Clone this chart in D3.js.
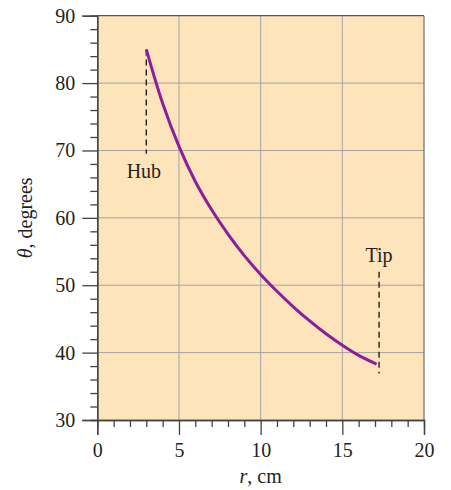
<!DOCTYPE html>
<html>
<head>
<meta charset="utf-8">
<script src="https://cdn.jsdelivr.net/npm/d3@7"></script>
<style>
  html, body { margin: 0; padding: 0; background: #ffffff; }
  svg { display: block; }
  text { font-family: "Liberation Serif", "DejaVu Serif", serif; fill: #231f20; }
</style>
</head>
<body>
<div id="chart"></div>
<script>
// ---- data ----
const radius = [3, 4, 5, 6, 7, 8, 9, 10, 11, 12, 13, 14, 15, 16, 17.1];
const theta  = [85, 77.0, 70.6, 65.4, 61.2, 57.6, 54.4, 51.6, 49.1, 46.8, 44.7, 42.8, 41.1, 39.6, 38.3];
const xTicks = [0, 5, 10, 15, 20];
const yTicks = [30, 40, 50, 60, 70, 80, 90];
const annotLabels = ["Hub", "Tip"];
const annotR      = [3, 17.25];
const annotTop    = [85, 52];
const annotBottom = [69.5, 36.9];
const annotTextTheta = [65.9, 53.5];
const annotTextR     = [2.85, 17.25];

const W = 451, H = 490;
const pLeft = 97.3, pRight = 424, pTop = 15.7, pBottom = 420;

const svg = d3.select("#chart").append("svg").attr("width", W).attr("height", H);

const x = d3.scaleLinear().domain([0, 20]).range([pLeft, pRight]);
const y = d3.scaleLinear().domain([30, 90]).range([pBottom, pTop]);

// background
svg.append("rect").attr("x", pLeft).attr("y", pTop)
  .attr("width", pRight - pLeft).attr("height", pBottom - pTop)
  .attr("fill", "#fee4ba");

// grid
svg.append("g").selectAll("line").data(xTicks.filter(d => d > 0 && d < 20)).join("line")
  .attr("x1", d => x(d)).attr("x2", d => x(d)).attr("y1", pTop).attr("y2", pBottom)
  .attr("stroke", "#a3a3a3").attr("stroke-width", 1);
svg.append("g").selectAll("line").data(yTicks.filter(d => d > 30 && d < 90)).join("line")
  .attr("y1", d => y(d)).attr("y2", d => y(d)).attr("x1", pLeft).attr("x2", pRight)
  .attr("stroke", "#a3a3a3").attr("stroke-width", 1);

// top & right border
svg.append("line").attr("x1", pLeft).attr("x2", pRight).attr("y1", pTop).attr("y2", pTop)
  .attr("stroke", "#555").attr("stroke-width", 1.3);
svg.append("line").attr("x1", pRight).attr("x2", pRight).attr("y1", pTop).attr("y2", pBottom)
  .attr("stroke", "#777").attr("stroke-width", 1.3);

// axes
const xAxis = d3.axisBottom(x).tickValues(xTicks).tickSize(15).tickPadding(8).tickFormat(d3.format("d"));
const xMinor = d3.axisBottom(x).tickValues(d3.range(0, 21, 1).filter(d => d % 5 !== 0)).tickSize(7).tickFormat("");
const yAxis = d3.axisLeft(y).tickValues(yTicks).tickSize(15).tickPadding(7).tickFormat(d3.format("d"));
const yMinor = d3.axisLeft(y).tickValues(d3.range(30, 91, 2).filter(d => d % 10 !== 0)).tickSize(7).tickFormat("");

function styleAxis(g) {
  g.select(".domain").attr("stroke", "#444").attr("stroke-width", 1.3);
  g.selectAll(".tick line").attr("stroke", "#444").attr("stroke-width", 1.3);
  g.selectAll(".tick text").attr("font-size", 20).attr("fill", "#231f20")
    .attr("font-family", "Liberation Serif, serif");
}
svg.append("g").attr("transform", `translate(0,${pBottom})`).call(xMinor).call(styleAxis);
svg.append("g").attr("transform", `translate(0,${pBottom})`).call(xAxis).call(styleAxis);
svg.append("g").attr("transform", `translate(${pLeft},0)`).call(yMinor).call(styleAxis);
svg.append("g").attr("transform", `translate(${pLeft},0)`).call(yAxis).call(styleAxis);

// axis titles
const xt = svg.append("text").attr("x", (pLeft + pRight) / 2).attr("y", 483)
  .attr("text-anchor", "middle").attr("font-size", 20);
xt.append("tspan").attr("font-style", "italic").text("r");
xt.append("tspan").text(", cm");

const yt = svg.append("text").attr("transform", `translate(32,${(pTop + pBottom) / 2}) rotate(-90)`)
  .attr("text-anchor", "middle").attr("font-size", 20);
yt.append("tspan").attr("font-style", "italic").text("θ");
yt.append("tspan").text(", degrees");

// dashed annotation lines
svg.append("g").selectAll("line").data(annotLabels).join("line")
  .attr("x1", (d, i) => x(annotR[i])).attr("x2", (d, i) => x(annotR[i]))
  .attr("y1", (d, i) => y(annotTop[i])).attr("y2", (d, i) => y(annotBottom[i]))
  .attr("stroke", "#231f20").attr("stroke-width", 1.4).attr("stroke-dasharray", "6,4");

svg.append("g").selectAll("text").data(annotLabels).join("text")
  .attr("x", (d, i) => x(annotTextR[i])).attr("y", (d, i) => y(annotTextTheta[i]))
  .attr("text-anchor", "middle").attr("font-size", 20).text(d => d);

// curve
const pts = radius.map((r, i) => [r, theta[i]]);
svg.append("path").datum(pts)
  .attr("d", d3.line().x(d => x(d[0])).y(d => y(d[1])).curve(d3.curveCatmullRom.alpha(0.5)))
  .attr("fill", "none").attr("stroke", "#8c1d9c").attr("stroke-width", 3);
</script>
</body>
</html>
